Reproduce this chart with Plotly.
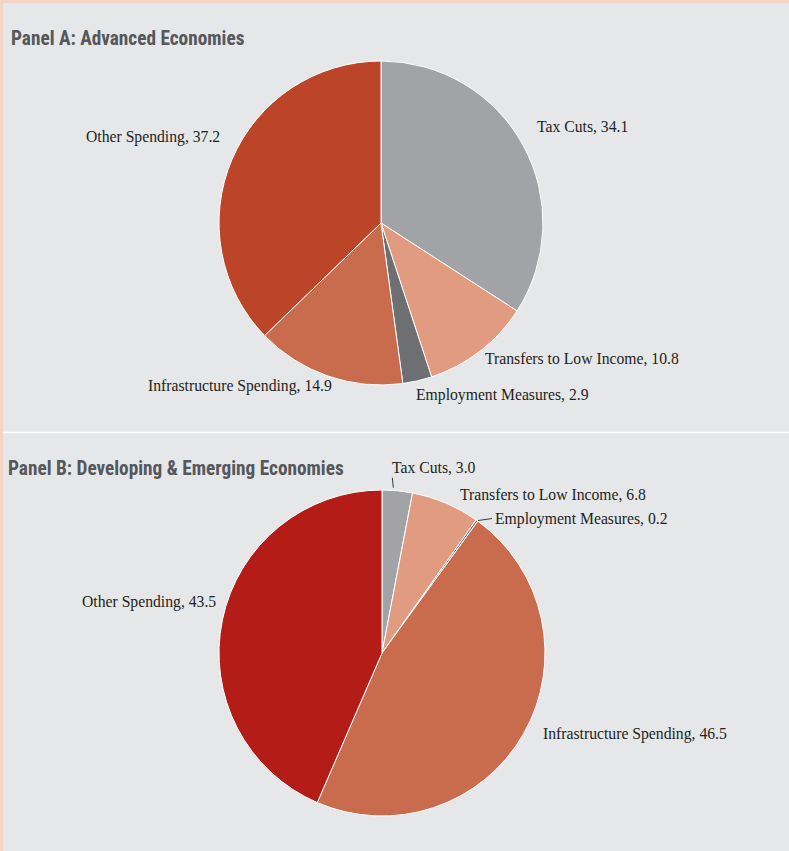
import math
import plotly.graph_objects as go

categories = ["Tax Cuts", "Transfers to Low Income", "Employment Measures",
              "Infrastructure Spending", "Other Spending"]
values_a = [34.1, 10.8, 2.9, 14.9, 37.2]
values_b = [3.0, 6.8, 0.2, 46.5, 43.5]
title_a = "Panel A: Advanced Economies"
title_b = "Panel B: Developing & Emerging Economies"

colors_a = ["#a2a3a6", "#e09b80", "#6e6f72", "#c96b4d", "#bc4529"]
colors_b = ["#a2a3a6", "#e09b80", "#6e6f72", "#c96b4d", "#b31c17"]

W, H = 789, 851
BG = "#e6e7e9"
PINK = "#f5d4c5"
TXT = "#231f20"
serif = "Liberation Serif, DejaVu Serif, serif"
title_font = dict(family="Roboto Condensed, Open Sans Condensed, Noto Sans Condensed, "
                         "Liberation Sans Narrow, Arial Narrow, DejaVu Sans Condensed, sans-serif",
                  size=19.3, color="#54575b")

# pie geometry (pixels) and per-label nudges from the slice edge (pixels)
pies = [
    dict(values=values_a, colors=colors_a, cx=381, cy=223, r=162,
         nudge=[(12, -19), (3, 7), (-3, 14), (6, 10), (-10, -23)],
         leader=[False, False, False, False, False]),
    dict(values=values_b, colors=colors_b, cx=382, cy=653, r=163,
         nudge=[(-7, -23), (12, -9), (16, -2), (17, 0), (-4, -18)],
         leader=[True, False, True, False, False]),
]

fig = go.Figure()
annotations = []
shapes = [
    dict(type="rect", xref="paper", yref="paper", x0=0, x1=1, y0=1 - 3 / H, y1=1,
         fillcolor=PINK, line=dict(width=0), layer="below"),
    dict(type="rect", xref="paper", yref="paper", x0=0, x1=3 / W, y0=0, y1=1,
         fillcolor=PINK, line=dict(width=0), layer="below"),
    dict(type="line", xref="paper", yref="paper", x0=3 / W, x1=1, y0=1 - 432.5 / H, y1=1 - 432.5 / H,
         line=dict(color="white", width=1.5)),
]


def px(x):
    return x / W


def py(y):
    return 1 - y / H


for p in pies:
    cx, cy, r = p["cx"], p["cy"], p["r"]
    fig.add_trace(go.Pie(
        labels=categories, values=p["values"], sort=False, direction="clockwise",
        rotation=0, marker=dict(colors=p["colors"], line=dict(color="white", width=1)),
        textinfo="none", showlegend=False, hoverinfo="label+value",
        domain=dict(x=[px(cx - r), px(cx + r)], y=[py(cy + r), py(cy - r)]),
    ))
    total = sum(p["values"])
    cum = 0.0
    for lab, v, (dx, dy), lead in zip(categories, p["values"], p["nudge"], p["leader"]):
        mid = (cum + v / 2) / total * 2 * math.pi
        cum += v
        ex = cx + r * math.sin(mid)
        ey = cy - r * math.cos(mid)
        lx, ly = ex + dx, ey + dy
        right = math.sin(mid) >= 0
        if lead:
            if dy < -10:
                sx, sy = ex - 4, ey - 3
                tx, ty = lx + 2, ly + 10
            else:
                sx, sy = ex + 1, ey
                tx, ty = lx - 1, ly
            shapes.append(dict(type="line", xref="paper", yref="paper",
                               x0=px(sx), y0=py(sy), x1=px(tx), y1=py(ty),
                               line=dict(color="#3a3a3a", width=1)))
        annotations.append(dict(
            text="%s, %.1f" % (lab, v), x=px(lx), y=py(ly), xref="paper", yref="paper",
            xanchor="left" if right else "right", yanchor="middle", showarrow=False,
            font=dict(family=serif, size=15.7, color=TXT)))

annotations.append(dict(text="<b>%s</b>" % title_a, x=px(9), y=py(38), xref="paper", yref="paper",
                        xanchor="left", yanchor="middle", showarrow=False, font=title_font))
annotations.append(dict(text="<b>%s</b>" % title_b, x=px(6), y=py(468), xref="paper", yref="paper",
                        xanchor="left", yanchor="middle", showarrow=False, font=title_font))

fig.update_layout(width=W, height=H, margin=dict(l=0, r=0, t=0, b=0),
                  paper_bgcolor=BG, plot_bgcolor=BG, shapes=shapes, annotations=annotations)

fig.write_html("out.html", config={"displayModeBar": False},
               post_script="document.body.style.margin='0';")
